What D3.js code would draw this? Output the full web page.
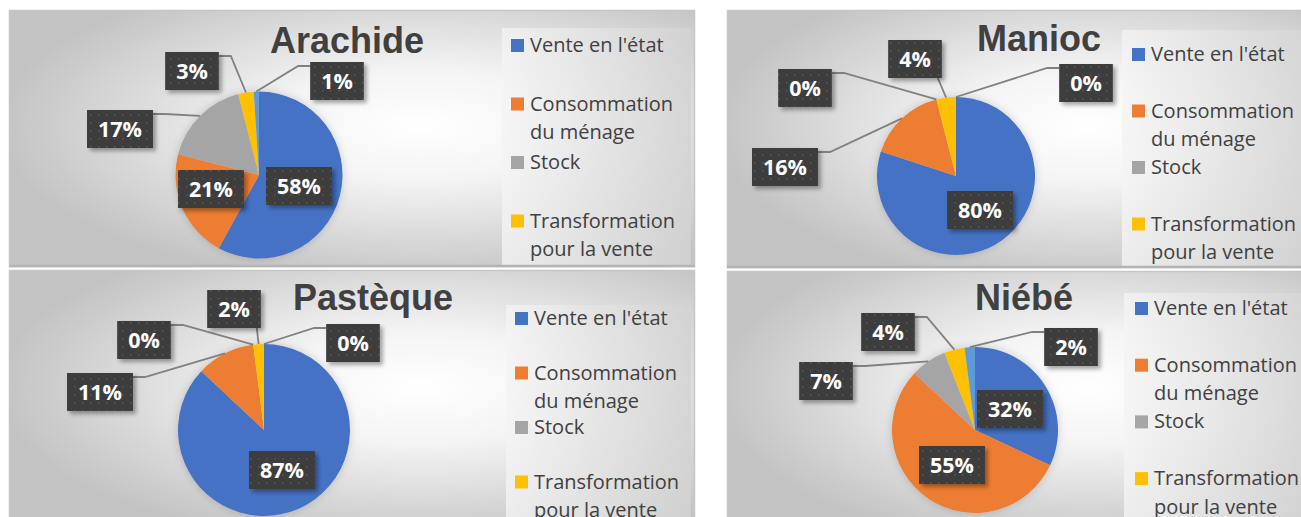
<!DOCTYPE html>
<html lang="fr">
<head>
<meta charset="utf-8">
<title>Destination de la production</title>
<script src="https://cdn.jsdelivr.net/npm/d3@7/dist/d3.min.js"></script>
<style>
  body { margin: 0; background: #fff; }
  .title { font-family: "Liberation Sans", Arial, sans-serif; font-weight: bold; font-size: 36px; fill: #404040; text-anchor: middle; }
  .legend { font-family: "Open Sans", sans-serif; font-size: 20px; fill: #404040; }
  .dlabel { font-family: "Open Sans", sans-serif; font-weight: bold; font-size: 21.5px; fill: #fff; text-anchor: middle; }
</style>
</head>
<body>
<script>
// data
var crops = ["Arachide", "Manioc", "Pastèque", "Niébé"];
var categories = ["Vente en l'état", "Consommation du ménage", "Stock", "Transformation pour la vente", "Autre"];
var arachide = [58, 21, 17, 3, 1];
var manioc   = [80, 16, 0, 4, 0];
var pasteque = [87, 11, 0, 2, 0];
var niebe    = [32, 55, 7, 4, 2];
var colors = ["#4472c4", "#ed7d31", "#a5a5a5", "#ffc000", "#5b9bd5"];

var series = [arachide, manioc, pasteque, niebe];

// layout of each panel (page pixels)
var panels = [
  {x: 9,   y: 10,  w: 686, h: 257, cx: 259, cy: 175, r: 83.5, tx: 347,  ty: 53,  lx: 511,  ly: 52,  step: 58.5, lgx: 502,  lgy: 28,
   offs: [[40,11],[-48,14],[-139,-46],[-67,-104],[78,-94]]},
  {x: 727, y: 10,  w: 600, h: 258, cx: 956, cy: 176, r: 79,   tx: 1039, ty: 51,  lx: 1132, ly: 61,  step: 56.5, lgx: 1122, lgy: 30,
   offs: [[24,34],[-171,-9],[-151,-88],[-41,-117],[130,-93]]},
  {x: 9,   y: 270, w: 686, h: 260, cx: 264, cy: 430, r: 86,   tx: 373,  ty: 310, lx: 515,  ly: 325, step: 54.5, lgx: 506,  lgy: 305,
   offs: [[18,40],[-164,-38],[-120,-90],[-30,-121],[89,-87]]},
  {x: 727, y: 271, w: 600, h: 260, cx: 975, cy: 430, r: 83,   tx: 1024, ty: 310, lx: 1135, ly: 315, step: 56.7, lgx: 1124, lgy: 293,
   offs: [[35,-21],[-23,35],[-149,-49],[-87,-98],[96,-83]]}
];

var W = 1301, H = 517;
var svg = d3.select("body").append("svg").attr("width", W).attr("height", H);
var defs = svg.append("defs");

var rg = defs.append("radialGradient").attr("id", "bg").attr("cx", 0.6).attr("cy", 0.45).attr("r", 0.62);
rg.append("stop").attr("offset", 0).attr("stop-color", "#ffffff");
rg.append("stop").attr("offset", 0.35).attr("stop-color", "#f4f4f4");
rg.append("stop").attr("offset", 1).attr("stop-color", "#c3c3c3");

var lg = defs.append("linearGradient").attr("id", "lgbg");
lg.append("stop").attr("offset", 0).attr("stop-color", "#f4f4f4");
lg.append("stop").attr("offset", 1).attr("stop-color", "#d3d3d3");

var pat = defs.append("pattern").attr("id", "dots").attr("patternUnits", "userSpaceOnUse")
  .attr("width", 8).attr("height", 8);
pat.append("rect").attr("width", 8).attr("height", 8).attr("fill", "#3d3d3d");
pat.append("rect").attr("x", 2).attr("y", 2).attr("width", 1.5).attr("height", 1.5).attr("fill", "#575757");

var sh = defs.append("filter").attr("id", "shadow").attr("x", "-20%").attr("y", "-20%").attr("width", "150%").attr("height", "150%");
sh.append("feDropShadow").attr("dx", 3).attr("dy", 3).attr("stdDeviation", 2).attr("flood-color", "#000").attr("flood-opacity", 0.35);

var psh = defs.append("filter").attr("id", "pieshadow").attr("x", "-20%").attr("y", "-20%").attr("width", "140%").attr("height", "140%");
psh.append("feDropShadow").attr("dx", 0).attr("dy", 0).attr("stdDeviation", 4).attr("flood-color", "#000").attr("flood-opacity", 0.18);

var pie = d3.pie().sort(null).value(function(d) { return d; });

panels.forEach(function(p, k) {
  var clipId = "clip" + k;
  defs.append("clipPath").attr("id", clipId)
    .append("rect").attr("x", p.x).attr("y", p.y).attr("width", p.w).attr("height", p.h);

  var g = svg.append("g").attr("clip-path", "url(#" + clipId + ")");

  g.append("rect").attr("x", p.x).attr("y", p.y).attr("width", p.w).attr("height", p.h)
    .attr("fill", "url(#bg)");
  g.append("rect").attr("x", p.lgx).attr("y", p.lgy).attr("width", p.x + p.w - p.lgx - 4).attr("height", p.y + p.h - p.lgy)
    .attr("fill", "url(#lgbg)").attr("opacity", 0.8);

  // border
  svg.append("rect").attr("x", p.x + 0.5).attr("y", p.y + 0.5).attr("width", p.w - 1).attr("height", p.h - 1)
    .attr("fill", "none").attr("stroke", "#c6c6c6").attr("stroke-width", 1.5);
  svg.append("line").attr("x1", p.x).attr("x2", p.x + p.w).attr("y1", p.y + p.h - 1).attr("y2", p.y + p.h - 1)
    .attr("stroke", "#b4b4b4").attr("stroke-width", 2.5);

  g.append("text").attr("class", "title").attr("x", p.tx).attr("y", p.ty).text(crops[k]);

  // pie
  var arcs = pie(series[k]);
  var arc = d3.arc().innerRadius(0).outerRadius(p.r);
  var pg = g.append("g").attr("transform", "translate(" + p.cx + "," + p.cy + ")");
  pg.append("g").attr("filter", "url(#pieshadow)").selectAll("path").data(arcs).enter().append("path")
    .attr("d", arc)
    .attr("fill", function(d, i) { return colors[i]; });

  // data labels
  arcs.forEach(function(d, i) {
    var o = p.offs[i];
    var bx = p.cx + o[0], by = p.cy + o[1];
    var lab = g.append("g");
    var t = lab.append("text").attr("class", "dlabel").attr("x", bx).attr("y", by).attr("dy", "0.36em")
      .text(series[k][i] + "%");
    var tw = t.node().getComputedTextLength();
    var bw = tw + 22, bh = 38;
    var left = bx - bw / 2, right = bx + bw / 2, top = by - bh / 2, bottom = by + bh / 2;

    if (Math.hypot(o[0], o[1]) > p.r) {
      var mid = (d.startAngle + d.endAngle) / 2;
      var ex = p.cx + p.r * Math.sin(mid), ey = p.cy - p.r * Math.cos(mid);
      var pts;
      if (ex > left - 12 && ex < right + 12) {
        var ax = Math.max(left + 4, Math.min(right - 4, ex));
        pts = [[ax, bottom], [ex, ey]];
      } else {
        var sx = bx < p.cx ? right : left;
        var dir = bx < p.cx ? 1 : -1;
        pts = [[sx, top + 4], [sx + dir * 12, top + 4], [ex, ey]];
      }
      g.insert("path", function() { return lab.node(); })
        .attr("d", d3.line()(pts))
        .attr("fill", "none").attr("stroke", "#808080").attr("stroke-width", 1.8);
    }

    lab.insert("rect", "text").attr("x", left).attr("y", top).attr("width", bw).attr("height", bh)
      .attr("fill", "url(#dots)").attr("filter", "url(#shadow)");
  });

  // legend
  categories.forEach(function(c, i) {
    var y0 = p.ly + i * p.step;
    g.append("rect").attr("x", p.lx).attr("y", y0 - 13).attr("width", 13).attr("height", 13).attr("fill", colors[i]);
    var txt = g.append("text").attr("class", "legend").attr("x", p.lx + 19).attr("y", y0);
    var words = c.split(" "), line = [], lineNo = 0;
    var ts = txt.append("tspan").attr("x", p.lx + 19).attr("y", y0);
    words.forEach(function(w) {
      line.push(w);
      ts.text(line.join(" "));
      if (ts.node().getComputedTextLength() > 158 && line.length > 1) {
        line.pop();
        ts.text(line.join(" "));
        line = [w];
        lineNo++;
        ts = txt.append("tspan").attr("x", p.lx + 19).attr("y", y0 + lineNo * 28.5).text(w);
      }
    });
  });
});
</script>
</body>
</html>
